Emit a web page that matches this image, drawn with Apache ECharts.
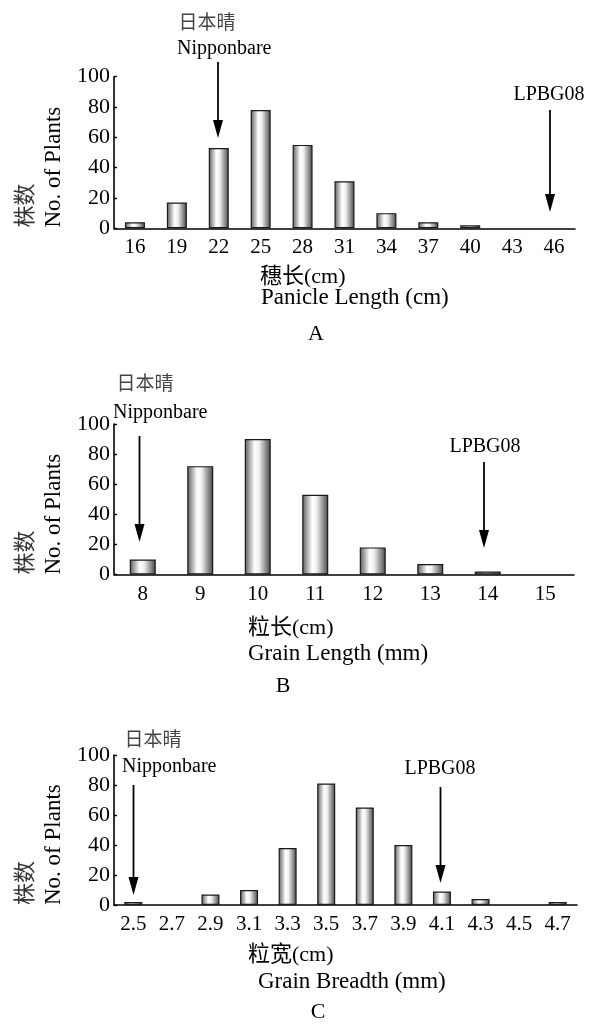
<!DOCTYPE html>
<html>
<head>
<meta charset="utf-8">
<script src="https://cdn.jsdelivr.net/npm/echarts@6/dist/echarts.min.js"></script>
<style>
html,body{margin:0;padding:0;background:#fff;}
#c{width:592px;height:1033px;}
</style>
</head>
<body>
<div id="c"></div>
<script>
// ---- data ----
const catsA = ['16','19','22','25','28','31','34','37','40','43','46'];
const valsA = [4,17,53,78,55,31,10,4,2,0,0];
const catsB = ['8','9','10','11','12','13','14','15'];
const valsB = [10,72,90,53,18,7,2,0];
const catsC = ['2.5','2.7','2.9','3.1','3.3','3.5','3.7','3.9','4.1','4.3','4.5','4.7'];
const valsC = [2,0,7,10,38,81,65,40,9,4,0,2];
const yMin = 0, yMax = 100, yStep = 20;

const SERIF = 'Liberation Serif, Times New Roman, serif';
const CJK = 'Noto Sans CJK SC, sans-serif';
const MIX = 'Liberation Serif, Noto Sans CJK SC, serif';

const chart = echarts.init(document.getElementById('c'));

const grids = [
  {left:114, top:76.7, width:461, height:151.6},
  {left:114, top:424, width:460, height:150.5},
  {left:114, top:755, width:463, height:150}
];
const barWidths = [20, 26, 18];
const cats = [catsA, catsB, catsC];
const vals = [valsA, valsB, valsC];

const barColor = new echarts.graphic.LinearGradient(0,0,1,0,[
  {offset:0, color:'#5a5a5a'},
  {offset:0.38, color:'#ffffff'},
  {offset:0.55, color:'#f0f0f0'},
  {offset:1, color:'#454545'}
]);

const xAxes = cats.map((c,i)=>({
  type:'category', gridIndex:i, data:c,
  axisLine:{lineStyle:{color:'#000', width:1.6}},
  axisTick:{inside:true, length:4, lineStyle:{color:'#000', width:1.6}},
  axisLabel:{color:'#000', fontSize:21, fontFamily:SERIF, margin:9, interval:0}
}));
const yAxes = cats.map((c,i)=>({
  type:'value', gridIndex:i, min:yMin, max:yMax, interval:yStep,
  splitLine:{show:false},
  axisLine:{show:true, lineStyle:{color:'#000', width:1.6}},
  axisTick:{show:true, inside:true, length:3, lineStyle:{color:'#000', width:1.4}},
  axisLabel:{color:'#000', fontSize:22, fontFamily:SERIF, margin:4}
}));
const series = vals.map((v,i)=>({
  type:'bar', xAxisIndex:i, yAxisIndex:i,
  data:v.map(x => x === 0 ? null : x),
  barWidth:barWidths[i],
  itemStyle:{color:barColor, borderColor:'#1a1a1a', borderWidth:1.2},
  silent:true, animation:false
}));

function txt(text, x, y, opts) {
  opts = opts || {};
  return {
    type:'text', x:x, y:y, rotation: opts.rot || 0,
    style:{text:text, fill: opts.color || '#000', font: (opts.size||20)+'px '+(opts.family||SERIF),
      textAlign: opts.align || 'center', textVerticalAlign:'middle'}
  };
}
function arrow(x, y1, y2) {
  return {
    type:'group', children:[
      {type:'line', shape:{x1:x, y1:y1, x2:x, y2:y2-12}, style:{stroke:'#000', lineWidth:1.8}},
      {type:'polygon', shape:{points:[[x-5,y2-18],[x+5,y2-18],[x,y2]]}, style:{fill:'#000'}}
    ]
  };
}
function ylab(bottom) {
  return [
    txt('株数', 24, bottom, {rot:Math.PI/2, align:'left', family:CJK, size:22, color:'#333'}),
    txt('No. of Plants', 54, bottom, {rot:Math.PI/2, align:'left', size:23})
  ];
}
const HAN = {family:CJK, size:19, color:'#444'};

const graphics = [].concat(
  // Panel A
  [txt('日本晴', 207, 22, HAN),
   txt('Nipponbare', 177, 49, {align:'left'}),
   arrow(218, 62, 138),
   txt('LPBG08', 549, 95),
   arrow(550, 110, 212)],
  ylab(227.5),
  [txt('穗长(cm)', 260, 277.5, {align:'left', family:MIX, size:22}),
   txt('Panicle Length (cm)', 261, 298, {align:'left', size:23}),
   txt('A', 316, 334, {size:22})],
  // Panel B
  [txt('日本晴', 145, 383, HAN),
   txt('Nipponbare', 113, 413, {align:'left'}),
   arrow(139.5, 436, 542),
   txt('LPBG08', 485, 447),
   arrow(484, 462, 548)],
  ylab(574.5),
  [txt('粒长(cm)', 248, 628, {align:'left', family:MIX, size:22}),
   txt('Grain Length (mm)', 248, 654, {align:'left', size:23}),
   txt('B', 283, 686, {size:22})],
  // Panel C
  [txt('日本晴', 153, 739, HAN),
   txt('Nipponbare', 122, 767, {align:'left'}),
   arrow(133.5, 785, 895),
   txt('LPBG08', 440, 768.5),
   arrow(440.5, 787, 883)],
  ylab(905),
  [txt('粒宽(cm)', 248, 955, {align:'left', family:MIX, size:22}),
   txt('Grain Breadth (mm)', 258, 982, {align:'left', size:23}),
   txt('C', 318, 1012, {size:22})]
);

chart.setOption({
  animation:false,
  backgroundColor:'#fff',
  grid:grids,
  xAxis:xAxes,
  yAxis:yAxes,
  series:series,
  graphic:graphics
});
</script>
</body>
</html>
